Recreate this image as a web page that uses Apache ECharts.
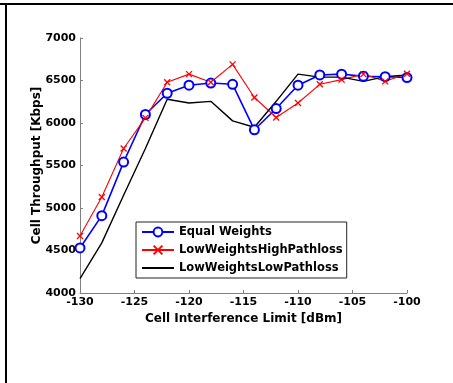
<!DOCTYPE html>
<html><head><meta charset="utf-8">
<script src="https://cdn.jsdelivr.net/npm/echarts@6/dist/echarts.min.js"></script>
<style>html,body{margin:0;padding:0;background:#fff}#c{width:453px;height:383px}</style>
</head><body><div id="c"></div>
<script>
const xValues = [-130,-128,-126,-124,-122,-120,-118,-116,-114,-112,-110,-108,-106,-104,-102,-100];
const equalWeights = [4530,4910,5540,6100,6350,6445,6470,6455,5920,6170,6445,6565,6575,6550,6545,6535];
const lowWeightsHighPathloss = [4670,5130,5700,6060,6480,6575,6480,6690,6300,6065,6235,6455,6510,6575,6490,6580];
const lowWeightsLowPathloss = [4170,4590,5150,5700,6280,6235,6255,6025,5950,6255,6575,6540,6540,6490,6545,6565];
const xTicks = [-130,-125,-120,-115,-110,-105,-100];
const yTicks = [4000,4500,5000,5500,6000,6500,7000];
const seriesNames = ['Equal Weights','LowWeightsHighPathloss','LowWeightsLowPathloss'];

const pair = arr => xValues.map((x,i)=>[x,arr[i]]);
const font = '"DejaVu Sans", Verdana, sans-serif';
const chart = echarts.init(document.getElementById('c'), null, {renderer:'canvas'});
chart.setOption({
  animation:false,
  backgroundColor:'#fff',
  graphic:[
    {type:'line', shape:{x1:0,y1:4,x2:453,y2:4}, style:{stroke:'#000',lineWidth:2}},
    {type:'line', shape:{x1:6,y1:3,x2:6,y2:383}, style:{stroke:'#000',lineWidth:2}}
  ],
  grid:{left:80,right:46,top:38,bottom:90,containLabel:false},
  xAxis:{
    type:'value', min:xTicks[0], max:xTicks[xTicks.length-1], interval:5,
    name:'Cell Interference Limit [dBm]', nameLocation:'middle', nameGap:19,
    nameTextStyle:{fontFamily:font,fontWeight:'bold',fontSize:12,color:'#000'},
    axisLine:{show:true,lineStyle:{color:'#808080',width:1}},
    axisTick:{show:true,inside:true,length:3,lineStyle:{color:'#808080'}},
    axisLabel:{fontFamily:font,fontWeight:'bold',fontSize:11,color:'#000',margin:4,
      formatter:v=>String(v)},
    splitLine:{show:false}
  },
  yAxis:{
    type:'value', min:yTicks[0], max:yTicks[yTicks.length-1], interval:500,
    name:'Cell Throughput [Kbps]', nameLocation:'middle', nameGap:37, nameMoveOverlap:false,
    nameTextStyle:{fontFamily:font,fontWeight:'bold',fontSize:12,color:'#000'},
    axisLine:{show:true,lineStyle:{color:'#808080',width:1}},
    axisTick:{show:true,inside:true,length:3,lineStyle:{color:'#808080'}},
    axisLabel:{fontFamily:font,fontWeight:'bold',fontSize:11,color:'#000',margin:4,
      formatter:v=>String(v)},
    splitLine:{show:false}
  },
  legend:{
    orient:'vertical', left:136, top:222,
    padding:[4,4,4,5], itemGap:6, itemWidth:32, itemHeight:11,
    backgroundColor:'#fff', borderColor:'#222', borderWidth:1,
    textStyle:{fontFamily:font,fontWeight:'bold',fontSize:11.5,color:'#000'},
    data:[
      {name:seriesNames[0]},
      {name:seriesNames[1]},
      {name:seriesNames[2], itemStyle:{color:'rgba(0,0,0,0)',borderColor:'rgba(0,0,0,0)',borderWidth:0,opacity:0}}
    ]
  },
  series:[
    {name:seriesNames[0], type:'line', data:pair(equalWeights),
     symbol:'emptyCircle', symbolSize:9,
     lineStyle:{color:'#0000ff',width:1.6}, itemStyle:{color:'#0000ff',borderWidth:1.5}},
    {name:seriesNames[1], type:'line', data:pair(lowWeightsHighPathloss),
     symbol:'path://M0,0L10,10M10,0L0,10', symbolSize:6,
     lineStyle:{color:'#ff0000',width:1.1}, itemStyle:{color:'#ff0000',borderColor:'#ff0000',borderWidth:1.3}},
    {name:seriesNames[2], type:'line', data:pair(lowWeightsLowPathloss),
     symbol:'none', showSymbol:false,
     lineStyle:{color:'#000',width:1.4}, itemStyle:{color:'#000'}}
  ]
});
</script></body></html>
